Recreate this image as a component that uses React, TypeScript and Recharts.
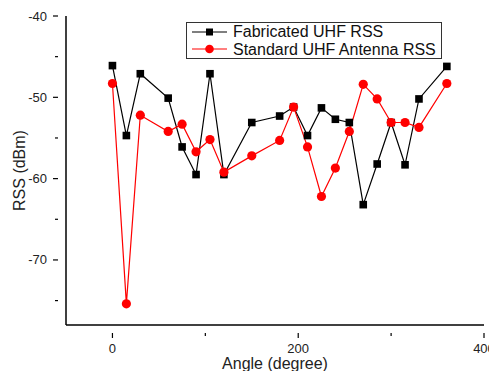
import { LineChart, Line, XAxis, YAxis, Legend } from 'recharts';

const angles = [0, 15, 30, 60, 75, 90, 105, 120, 150, 180, 195, 210, 225, 240, 255, 270, 285, 300, 315, 330, 360];
const fabricatedRss = [-46.1, -54.7, -47.1, -50.1, -56.1, -59.5, -47.1, -59.5, -53.1, -52.3, -51.2, -54.7, -51.3, -52.7, -53.1, -63.2, -58.2, -53.1, -58.3, -50.2, -46.2];
const standardRss = [-48.3, -75.4, -52.2, -54.2, -53.3, -56.7, -55.2, -59.2, -57.2, -55.3, -51.2, -56.1, -62.2, -58.7, -54.2, -48.4, -50.2, -53.1, -53.1, -53.7, -48.3];

const xTicks = [0, 100, 200, 300, 400];
const xLabels = [0, 200, 400];
const yTicks = [-75, -70, -65, -60, -55, -50, -45, -40];
const yLabels = [-70, -60, -50, -40];

const data = angles.map((a, i) => ({ angle: a, fab: fabricatedRss[i], std: standardRss[i] }));

const font = '"Liberation Sans", Arial, sans-serif';

function XTick(props: any) {
  const { x, y, payload } = props;
  const major = xLabels.includes(payload.value);
  return (
    <g>
      <line x1={x} y1={y} x2={x} y2={y + (major ? 5 : 3)} stroke="#000" strokeWidth={1.2} />
      {major && (
        <text x={x} y={y + 20} textAnchor="middle" fontSize={13} fill="#222" fontFamily={font}>
          {payload.value}
        </text>
      )}
    </g>
  );
}

function YTick(props: any) {
  const { x, y, payload } = props;
  const major = yLabels.includes(payload.value);
  return (
    <g>
      <line x1={x} y1={y} x2={x - (major ? 5 : 3)} y2={y} stroke="#000" strokeWidth={1.2} />
      {major && (
        <text x={x - 11} y={y + 4.5} textAnchor="end" fontSize={13} fill="#222" fontFamily={font}>
          {payload.value}
        </text>
      )}
    </g>
  );
}

function SquareDot(props: any) {
  const { cx, cy } = props;
  if (cx == null || cy == null) return null;
  return <rect x={cx - 3.8} y={cy - 3.8} width={7.6} height={7.6} fill="#000" />;
}

function RoundDot(props: any) {
  const { cx, cy } = props;
  if (cx == null || cy == null) return null;
  return <circle cx={cx} cy={cy} r={4.6} fill="#ff0000" />;
}

function LegendBox() {
  const rows = [
    { label: 'Fabricated UHF RSS', color: '#000', shape: 'square' },
    { label: 'Standard UHF Antenna RSS', color: '#ff0000', shape: 'circle' },
  ];
  return (
    <div
      style={{
        border: '1px solid #333',
        background: '#fff',
        padding: '0px 3px 0px 5px',
        fontFamily: font,
        fontSize: 16,
        lineHeight: '17.5px',
        color: '#111',
        width: 256,
        boxSizing: 'border-box',
      }}
    >
      {rows.map((r) => (
        <div key={r.label} style={{ display: 'flex', alignItems: 'center', whiteSpace: 'nowrap' }}>
          <svg width={36} height={12} style={{ marginRight: 5 }}>
            <line x1={0} y1={6} x2={35} y2={6} stroke={r.color} strokeWidth={1.2} />
            {r.shape === 'square' ? (
              <rect x={14} y={2.5} width={7} height={7} fill={r.color} />
            ) : (
              <circle cx={17.5} cy={6} r={4.3} fill={r.color} />
            )}
          </svg>
          <span>{r.label}</span>
        </div>
      ))}
    </div>
  );
}

export default function App() {
  return (
    <div style={{ position: 'absolute', left: 0, top: 0, width: 489, height: 371, background: '#fff', overflow: 'hidden' }}>
      <LineChart width={489} height={371} data={data} margin={{ top: 16, right: 5, bottom: 0, left: 0 }}>
        <XAxis
          dataKey="angle"
          type="number"
          domain={[-50, 400]}
          ticks={xTicks}
          interval={0}
          tick={<XTick />}
          tickLine={false}
          axisLine={{ stroke: '#000', strokeWidth: 1.5 }}
          height={46}
          allowDataOverflow
          label={{ value: 'Angle (degree)', position: 'insideBottom', offset: 2, fontSize: 16, fill: '#222', fontFamily: font }}
        />
        <YAxis
          type="number"
          domain={[-78, -40]}
          ticks={yTicks}
          interval={0}
          tick={<YTick />}
          tickLine={false}
          axisLine={{ stroke: '#000', strokeWidth: 1.5 }}
          width={66}
          allowDataOverflow
          label={{ value: 'RSS (dBm)', angle: -90, position: 'insideLeft', offset: 19, fontSize: 16, fill: '#222', fontFamily: font, style: { textAnchor: 'middle' } }}
        />
        <Legend
          layout="vertical"
          verticalAlign="middle"
          align="center"
          wrapperStyle={{ left: 186, top: 22, width: 'auto' }}
          content={() => <LegendBox />}
        />
        <Line
          type="linear"
          dataKey="fab"
          name="Fabricated UHF RSS"
          stroke="#000"
          strokeWidth={1.2}
          dot={<SquareDot />}
          activeDot={false}
          isAnimationActive={false}
        />
        <Line
          type="linear"
          dataKey="std"
          name="Standard UHF Antenna RSS"
          stroke="#ff0000"
          strokeWidth={1.2}
          dot={<RoundDot />}
          activeDot={false}
          isAnimationActive={false}
        />
      </LineChart>
    </div>
  );
}
